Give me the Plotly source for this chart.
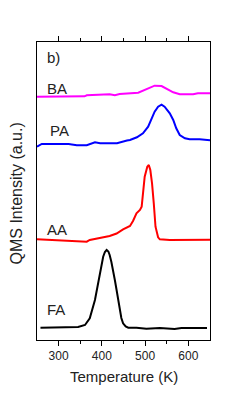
import plotly.graph_objects as go

# Temperature (K) and QMS intensity (arbitrary units)
fa_t = [258, 338, 345, 361, 372, 384, 395, 399, 403, 407, 411, 415, 418, 422, 426, 430, 434, 438, 441, 445, 449, 455, 461, 480, 503, 534, 568, 584, 643]
fa_y = [12.3, 12.3, 13, 15, 21.7, 40, 66.7, 76, 83.3, 88, 90, 88.5, 85, 78, 70, 60, 50, 39, 30, 22, 16.7, 13.5, 12.3, 12.3, 11.3, 12, 11, 12, 12]

aa_t = [250, 296, 319, 365, 372, 395, 411, 418, 434, 449, 465, 472, 480, 488, 492, 495, 499, 505, 508.5, 512, 516, 520, 524, 530, 534, 557, 580, 650]
aa_y = [100.7, 100, 99, 98.3, 100, 101.7, 103.3, 104, 106.5, 110.7, 114, 119, 126.7, 130, 133.3, 146.7, 163.3, 173.3, 175, 170, 156.7, 136.7, 113.3, 102.7, 100.7, 100, 100, 100.3]

pa_t = [250, 261, 323, 342, 365, 384, 396, 435, 458, 465, 481, 495, 507, 515, 522, 530, 538, 545, 557, 565, 572, 580, 592, 603, 626, 650]
pa_y = [193.3, 196, 196, 194.7, 194.7, 197.7, 196.7, 196.7, 199.5, 200, 202.7, 206.7, 213.3, 221.7, 228.3, 233.3, 235.3, 233.3, 226.7, 220, 211.7, 205, 201.7, 200.7, 200.7, 199.7]

ba_t = [250, 360, 365, 418, 430, 441, 484, 499, 515, 522, 538, 549, 565, 580, 611, 622, 650]
ba_y = [243.3, 243.7, 244.7, 245.7, 244.7, 246, 247.3, 250, 253, 254.3, 254, 251.7, 247.7, 245.7, 245.7, 246.7, 246.7]

x_ticks = [300, 400, 500, 600]
labels = ["BA", "PA", "AA", "FA"]
label_t = [297, 302, 297, 293]
label_y = [252, 210, 110.5, 30.5]

FONT = "Liberation Sans, Arial, sans-serif"

# page body has an 8px default margin, so the figure is shrunk by it
W, H = 239, 391
L, R, T, B = 29, 37, 34, 59
PW, PH = W - L - R, H - T - B

fig = go.Figure()
for t, y, c in [(fa_t, fa_y, "#000000"), (aa_t, aa_y, "#ff0000"),
                (pa_t, pa_y, "#0000ff"), (ba_t, ba_y, "#ff00ff")]:
    fig.add_trace(go.Scatter(x=t, y=y, mode="lines",
                             line=dict(color=c, width=2),
                             hoverinfo="skip", showlegend=False))

annotations = []
for txt, t, y in zip(labels, label_t, label_y):
    annotations.append(dict(x=t, y=y, xref="x", yref="y", text=txt, showarrow=False,
                            font=dict(family=FONT, size=15, color="#222222"),
                            xanchor="center", yanchor="middle"))
annotations.append(dict(x=288, y=283, xref="x", yref="y", text="b)", showarrow=False,
                        font=dict(family=FONT, size=15, color="#222222"),
                        xanchor="center", yanchor="middle"))
annotations.append(dict(x=0.5, y=-36 / PH, xref="paper", yref="paper",
                        text="Temperature (K)", showarrow=False,
                        font=dict(family=FONT, size=15, color="#222222"),
                        xanchor="center", yanchor="middle"))
annotations.append(dict(x=-20.5 / PW, y=146 / PH, xref="paper", yref="paper",
                        text="QMS Intensity (a.u.)", showarrow=False, textangle=-90,
                        font=dict(family=FONT, size=16, color="#222222"),
                        xanchor="center", yanchor="middle"))

fig.update_layout(
    width=W, height=H,
    margin=dict(l=L, r=R, t=T, b=B),
    paper_bgcolor="white", plot_bgcolor="white",
    showlegend=False,
    annotations=annotations,
    xaxis=dict(range=[250, 650], tickvals=x_ticks, ticktext=[str(v) for v in x_ticks],
               ticks="outside", ticklen=5, tickwidth=1, tickcolor="black",
               minor=dict(tickvals=[350, 450, 550], ticks="outside", ticklen=3,
                          tickwidth=1, tickcolor="black"),
               showline=True, linecolor="black", linewidth=1, mirror="ticks",
               showgrid=False, zeroline=False,
               tickfont=dict(family=FONT, size=12, color="#222222")),
    yaxis=dict(range=[0, 298], showticklabels=False, ticks="",
               showline=True, linecolor="black", linewidth=1, mirror=True,
               showgrid=False, zeroline=False),
)

fig.write_html("out.html")
